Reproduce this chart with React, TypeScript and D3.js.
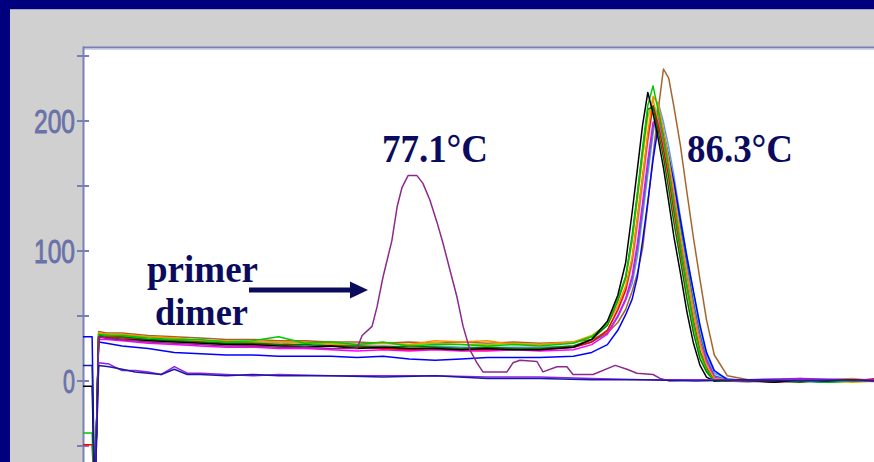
import * as d3 from 'd3';

const W = 874;
const H = 462;

// temperature grid (°C) shared by the product curves
const temps = [
  64.5, 64.85, 64.95, 65.1, 65.4,
  66, 67, 68, 69, 70, 71, 72, 73, 74, 75, 76, 77, 78, 79, 80, 81, 82,
  83.3, 84, 84.6, 85, 85.3, 85.55, 85.75, 85.95, 86.15, 86.35, 86.55, 86.75, 86.95, 87.15, 87.4, 87.65, 87.9, 88.15, 88.4, 88.7,
  89.2, 90, 91, 92, 93, 94, 95,
];

// -dF/dT values, one array per well
const black = [
  -4, -4, -95, 34, 33,
  32, 31, 30, 29, 28, 28, 27, 26, 27, 25, 26, 25, 25, 24, 25, 24, 24,
  26, 32, 46, 66, 91, 130, 163, 197, 222, 206, 186, 164, 138, 111, 83, 53, 29, 12, 3, 0,
  1, 0, -1, 1, 0, 1, 0,
];
const darkgreen = [
  -95, -95, -95, 35, 35,
  34, 32, 31, 30, 29, 29, 28, 28, 27, 27, 26, 27, 26, 25, 26, 25, 25,
  27, 32, 43, 62, 80, 112, 144, 178, 209, 211, 192, 172, 148, 122, 93, 63, 37, 17, 7, 0,
  0, 1, 0, -1, 1, 0, 1,
];
const green = [
  -40, -40, -95, 36, 35,
  35, 33, 32, 32, 30, 31, 34, 29, 30, 28, 30, 27, 28, 28, 27, 28, 27,
  29, 34, 44, 63, 80, 110, 144, 179, 212, 227, 208, 187, 163, 136, 104, 74, 44, 22, 9, 0,
  1, 0, 1, 0, -1, 0, 1,
];
const olive = [
  -95, -95, -95, 37, 36,
  35, 34, 33, 31, 31, 30, 30, 29, 29, 28, 29, 28, 29, 28, 28, 29, 28,
  30, 35, 44, 62, 78, 107, 139, 172, 203, 217, 199, 179, 156, 130, 99, 70, 42, 21, 9, 0,
  0, 1, 0, 1, 0, -1, 0,
];
const red = [
  -49, -49, -95, 33, 34,
  33, 31, 30, 29, 28, 27, 28, 26, 27, 26, 25, 24, 25, 24, 24, 25, 24,
  26, 30, 39, 55, 70, 94, 125, 157, 188, 212, 197, 178, 157, 131, 101, 73, 46, 23, 10, 1,
  0, 1, -1, 0, 1, 0, 2,
];
const gray = [
  -95, -95, -95, 35, 34,
  34, 32, 31, 31, 29, 30, 28, 31, 27, 26, 27, 26, 26, 25, 26, 25, 25,
  27, 31, 39, 54, 69, 90, 119, 151, 184, 211, 205, 186, 165, 140, 108, 81, 52, 28, 12, 2,
  0, -1, 1, 0, 0, 1, -1,
];
const orange = [
  -95, -95, -95, 37, 36,
  36, 34, 33, 31, 31, 30, 30, 30, 28, 28, 29, 28, 31, 30, 31, 28, 28,
  30, 34, 43, 58, 73, 95, 125, 157, 191, 219, 213, 193, 171, 146, 112, 84, 54, 29, 12, 2,
  1, 0, 1, -1, 1, 2, 0,
];
const magenta = [
  -95, -95, -95, 32, 32,
  31, 29, 28, 27, 26, 26, 25, 25, 24, 23, 24, 23, 24, 23, 23, 24, 23,
  24, 28, 36, 50, 63, 81, 106, 137, 170, 199, 202, 183, 164, 141, 110, 83, 55, 31, 15, 3,
  0, 1, 0, 2, 0, 1, 0,
];
const blue = [
  34, 34, -95, 30, 29,
  27, 25, 22, 21, 20, 20, 19, 19, 19, 18, 19, 17, 16, 17, 18, 18, 18,
  19, 22, 28, 39, 51, 63, 80, 108, 138, 170, 196, 190, 172, 153, 124, 95, 69, 43, 22, 8,
  1, 0, 1, 0, -1, 1, 0,
];
const teal = [
  -95, -95, -95, 34, 35,
  34, 32, 31, 29, 29, 28, 28, 27, 27, 26, 26, 25, 26, 25, 25, 25, 25,
  26, 30, 37, 50, 63, 79, 102, 133, 165, 195, 209, 192, 173, 151, 119, 90, 61, 36, 17, 4,
  1, 0, 0, 1, -1, 0, 1,
];
const lightblue = [
  -95, -95, -95, 35, 34,
  34, 32, 32, 30, 30, 29, 30, 30, 27, 27, 27, 26, 27, 26, 26, 26, 26,
  27, 31, 37, 49, 62, 75, 96, 127, 159, 190, 214, 199, 180, 158, 126, 96, 68, 41, 20, 6,
  2, 0, 1, 0, 1, 0, 1,
];
const brown = [
  -95, -95, -95, 38, 37,
  37, 35, 34, 33, 32, 32, 31, 31, 30, 30, 29, 30, 29, 30, 29, 30, 29,
  30, 32, 37, 45, 55, 69, 83, 102, 136, 173, 209, 240, 233, 211, 181, 145, 110, 78, 47, 20,
  4, 1, 0, 1, 0, 1, 0,
];

const products = [
  { values: lightblue, color: '#5c9cf0' },
  { values: teal, color: '#00908c' },
  { values: gray, color: '#a0a0a0' },
  { values: brown, color: '#a5652a' },
  { values: blue, color: '#0000ff' },
  { values: magenta, color: '#ff00ff' },
  { values: olive, color: '#c8b400' },
  { values: red, color: '#ff0000' },
  { values: orange, color: '#ff8c00' },
  { values: darkgreen, color: '#007800' },
  { values: green, color: '#00c800' },
  { values: black, color: '#000000' },
];

// primer-dimer well
const dimerTemps = [
  64.5, 64.85, 64.95, 65.1, 65.4, 66, 67, 68, 69, 70, 71, 72, 73, 74, 75,
  75.2, 75.58, 75.77, 76, 76.34, 76.54, 76.73, 76.96, 77.3, 77.53,
  77.8, 78.07, 78.3, 78.57, 78.83, 79.07, 79.33, 79.6, 79.83,
  80.75, 80.98, 81.25, 81.9, 82.13, 82.67, 83.05, 83.28, 84.05, 84.9,
  85.35, 85.73, 86.35, 86.62, 87, 88, 90, 92, 95,
];
const dimer = [
  -95, -95, -95, 34, 33, 32, 30, 29, 28, 27, 27, 26, 26, 25, 25,
  35, 42, 57, 80, 108, 134, 149, 158, 158, 152,
  139, 122, 106, 85, 65, 42, 24, 14, 7,
  7, 14, 16, 15, 7, 11, 11, 5, 5, 12,
  9, 6, 5, 2, 0, 1, 0, 1, 0,
];

// no-template controls
const flatTemps = [64.5, 64.85, 64.95, 65.1, 65.5, 66, 66.5, 67, 67.5, 68, 68.5, 69, 70, 71, 72, 74, 76, 78, 80, 82, 84, 86, 88, 90, 92, 94, 95];
const ntcViolet = [-95, -95, -95, 14, 13, 8, 8, 7, 5, 11, 6, 6, 5, 4, 5, 4, 4, 4, 3, 3, 2, 1, 1, 1, 2, 1, 1];
const ntcNavy = [12, 12, -95, 12, 11, 9, 7, 6, 5, 9, 5, 5, 4, 5, 4, 4, 3, 4, 2, 2, 1, 1, 0, 1, 0, 1, 0];

const yTicks = [-50, 0, 50, 100, 150, 200, 250];
const yLabels = [0, 100, 200];

const x = d3.scaleLinear([64.5, 95], [83, 878.7]);
const y = d3.scaleLinear([0, 200], [381, 121]);

const lineFor = (ts: number[]) =>
  d3.line<number>().x((_, i) => x(ts[i])).y(d => y(d));

const AXIS = '#7880b6';
const INK = '#0b0b5e';

export default function App() {
  const prodLine = lineFor(temps);
  return (
    <div style={{ position: 'absolute', left: 0, top: 0 }}>
      <svg width={W} height={H} style={{ display: 'block' }}>
        <defs>
          <clipPath id="plot">
            <rect x={83} y={49} width={W - 83} height={H - 49} />
          </clipPath>
        </defs>
        <rect width={W} height={H} fill="#00007e" />
        <rect x={10} y={9} width={W - 10} height={H - 9} fill="#d0d0d0" />
        <line x1={10} x2={W} y1={9.5} y2={9.5} stroke="#a4a4c8" />
        <rect x={83} y={48} width={W - 83} height={H - 48} fill="#fff" />

        {/* frame + axis */}
        <line x1={83} x2={W} y1={47.5} y2={47.5} stroke={AXIS} strokeWidth={2} />
        <line x1={84} x2={W} y1={49.5} y2={49.5} stroke="#d4d6ea" />
        <line x1={83.5} x2={83.5} y1={46.5} y2={H} stroke={AXIS} strokeWidth={2} />
        {yTicks.map(t => (
          <line key={t} x1={77} x2={89} y1={y(t)} y2={y(t)} stroke={AXIS} strokeWidth={2} />
        ))}
        {yLabels.map(t => (
          <text key={t} x={75} y={y(t) + 12} textAnchor="end" fill="#6a72aa"
            stroke="#6a72aa" strokeWidth={0.9}
            fontFamily="Liberation Sans, Arial, sans-serif" fontSize={34}
            textLength={t === 0 ? 12 : 41} lengthAdjust="spacingAndGlyphs">
            {t}
          </text>
        ))}

        <g clipPath="url(#plot)" fill="none" strokeWidth={1.5} strokeLinejoin="round">
          {products.map((s, i) => (
            <path key={i} d={prodLine(s.values) ?? ''} stroke={s.color} />
          ))}
          <path d={lineFor(dimerTemps)(dimer) ?? ''} stroke="#8c2a8c" />
          <path d={lineFor(flatTemps)(ntcViolet) ?? ''} stroke="#9020f0" />
          <path d={lineFor(flatTemps)(ntcNavy) ?? ''} stroke="#1a1aa0" />
        </g>

        {/* annotations */}
        <g fill={INK} fontFamily="Liberation Serif, Times New Roman, serif" fontWeight="bold">
          <text x={382} y={162} fontSize={40} textLength={106} lengthAdjust="spacingAndGlyphs">77.1°C</text>
          <text x={687} y={162} fontSize={40} textLength={106} lengthAdjust="spacingAndGlyphs">86.3°C</text>
          <text x={147} y={282} fontSize={37} textLength={111} lengthAdjust="spacingAndGlyphs">primer</text>
          <text x={155} y={325} fontSize={37} textLength={93} lengthAdjust="spacingAndGlyphs">dimer</text>
        </g>
        <line x1={249} x2={353} y1={290} y2={290} stroke={INK} strokeWidth={5} />
        <path d="M350,281.5 L368,290 L350,298.5 Z" fill={INK} />
      </svg>
    </div>
  );
}
